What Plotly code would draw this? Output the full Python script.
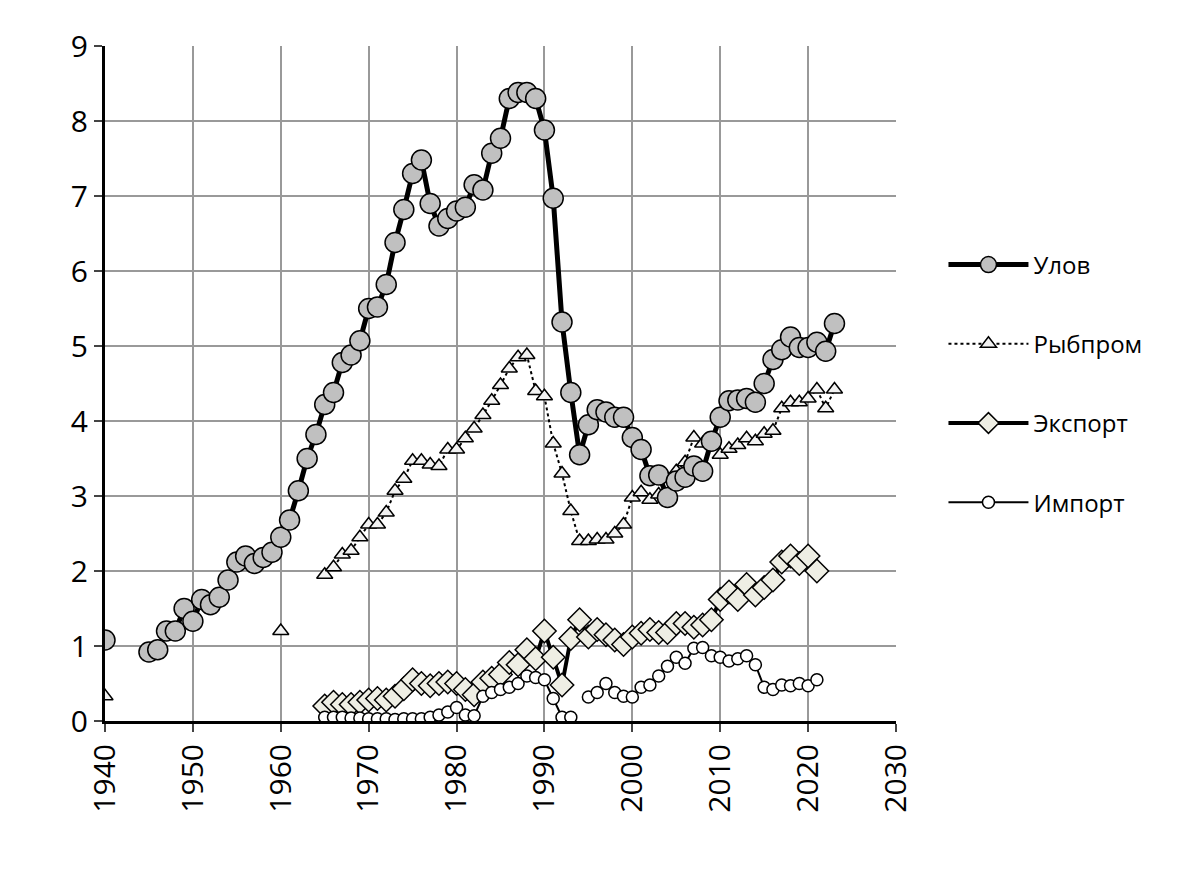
import plotly.graph_objects as go

years_catch = [1940, None] + list(range(1945, 2024))
catch = [1.08, None, 0.92, 0.95, 1.2, 1.2, 1.5, 1.33, 1.62, 1.55, 1.65, 1.88, 2.12, 2.2, 2.1, 2.18, 2.25,
         2.45, 2.68, 3.07, 3.5, 3.82, 4.22, 4.38, 4.78, 4.88, 5.07, 5.5, 5.52, 5.82, 6.38, 6.82, 7.3, 7.48,
         6.9, 6.6, 6.7, 6.8, 6.85, 7.15, 7.08, 7.57, 7.77, 8.3, 8.38, 8.38, 8.3, 7.88, 6.97, 5.32, 4.38,
         3.55, 3.95, 4.15, 4.12, 4.05, 4.05, 3.78, 3.62, 3.27, 3.28, 2.98, 3.2, 3.25, 3.4, 3.33, 3.73,
         4.05, 4.27, 4.28, 4.3, 4.25, 4.5, 4.82, 4.95, 5.12, 4.98, 4.98, 5.05, 4.93, 5.3]

years_ind = [1940, None, 1960, None] + list(range(1965, 2024))
industry = [0.33, None, 1.2, None, 1.95, 2.05, 2.22, 2.27, 2.45, 2.62, 2.62, 2.78, 3.07, 3.23, 3.47, 3.47,
            3.42, 3.4, 3.62, 3.62, 3.77, 3.9, 4.08, 4.27, 4.48, 4.7, 4.85, 4.88, 4.4, 4.33, 3.7, 3.3, 2.8,
            2.4, 2.4, 2.42, 2.42, 2.5, 2.62, 2.98, 3.05, 2.95, 3.02, 2.95, 3.33, 3.45, 3.78, 3.7, 3.75,
            3.55, 3.63, 3.68, 3.77, 3.73, 3.83, 3.87, 4.17, 4.25, 4.25, 4.3, 4.42, 4.17, 4.42]

years_exp = list(range(1965, 2022))
export = [0.2, 0.25, 0.22, 0.22, 0.25, 0.28, 0.3, 0.28, 0.33, 0.43, 0.55, 0.5, 0.47, 0.5, 0.52, 0.5, 0.42,
          0.35, 0.52, 0.57, 0.62, 0.78, 0.75, 0.95, 0.83, 1.2, 0.85, 0.48, 1.1, 1.35, 1.12, 1.22, 1.15,
          1.08, 1.02, 1.12, 1.17, 1.22, 1.18, 1.18, 1.3, 1.3, 1.25, 1.28, 1.35, 1.62, 1.72, 1.62, 1.82,
          1.68, 1.78, 1.88, 2.12, 2.2, 2.1, 2.2, 2.0]

years_imp = list(range(1965, 1994)) + [None] + list(range(1995, 2022))
imports = [0.05, 0.05, 0.05, 0.04, 0.04, 0.03, 0.03, 0.03, 0.02, 0.03, 0.03, 0.03, 0.05, 0.08, 0.12, 0.18,
           0.08, 0.07, 0.33, 0.38, 0.42, 0.45, 0.5, 0.6, 0.58, 0.55, 0.3, 0.05, 0.05, None,
           0.32, 0.38, 0.5, 0.38, 0.33, 0.32, 0.45, 0.48, 0.6, 0.73, 0.85, 0.77, 0.97, 0.98, 0.87, 0.85,
           0.8, 0.83, 0.87, 0.75, 0.45, 0.42, 0.48, 0.47, 0.5, 0.47, 0.55]

fig = go.Figure()
fig.add_trace(go.Scatter(x=years_ind, y=industry, name="Рыбпром", mode="lines+markers",
                         line=dict(color="black", width=2, dash="dot"),
                         marker=dict(symbol="triangle-up", size=14, color="#f2f2f2",
                                     line=dict(color="black", width=1.5)), legendrank=2))
fig.add_trace(go.Scatter(x=years_exp, y=export, name="Экспорт", mode="lines+markers",
                         line=dict(color="black", width=4),
                         marker=dict(symbol="diamond", size=18, color="#eeeee4",
                                     line=dict(color="black", width=1.5)), legendrank=3))
fig.add_trace(go.Scatter(x=years_imp, y=imports, name="Импорт", mode="lines+markers",
                         line=dict(color="black", width=2),
                         marker=dict(symbol="circle", size=12, color="white",
                                     line=dict(color="black", width=1.5)), legendrank=4))
fig.add_trace(go.Scatter(x=years_catch, y=catch, name="Улов", mode="lines+markers",
                         line=dict(color="black", width=5),
                         marker=dict(symbol="circle", size=20, color="#c0c0c0",
                                     line=dict(color="black", width=1.5)), legendrank=1))

for i, t in enumerate(fig.data):
    t.legendgroup = "g%d" % i

fig.update_layout(
    width=1200, height=877, plot_bgcolor="white", paper_bgcolor="white",
    margin=dict(l=97, r=312, t=38, b=164, autoexpand=False),
    font=dict(family="Open Sans, Liberation Sans, sans-serif", color="black", size=24),
    legend=dict(x=1.06, y=0.5, yanchor="middle", xanchor="left", tracegroupgap=45,
                font=dict(size=24), itemwidth=80),
    showlegend=True,
)
fig.update_xaxes(range=[1940, 2030], dtick=10, tickangle=-90, showgrid=True, gridcolor="#999999",
                 gridwidth=1.5, showline=True, linecolor="black", linewidth=3, ticks="outside",
                 ticklen=8, tickwidth=2, tickfont=dict(size=30), zeroline=False, automargin=False)
fig.update_yaxes(range=[0, 9], dtick=1, showgrid=True, gridcolor="#999999", gridwidth=1.5,
                 showline=True, linecolor="black", linewidth=3, ticks="outside", ticklen=8,
                 tickwidth=2, tickfont=dict(size=30), zeroline=False, automargin=False)
fig.write_html("out.html")
